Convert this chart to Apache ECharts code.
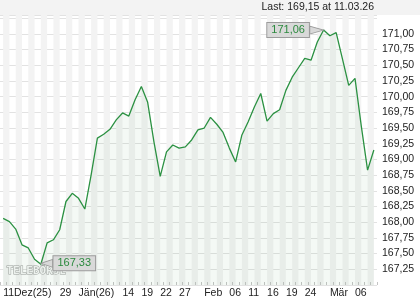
<!DOCTYPE html>
<html><head><meta charset="utf-8">
<script src="https://cdn.jsdelivr.net/npm/echarts@6/dist/echarts.min.js"></script>
<style>html,body{margin:0;padding:0;background:#fff}#c{width:420px;height:300px}</style>
</head><body><div id="c"></div>
<script>
const dates = ['11.12.25','12.12.25','15.12.25','16.12.25','17.12.25','18.12.25','19.12.25','22.12.25','23.12.25','29.12.25','30.12.25',
 '02.01.26','05.01.26','06.01.26','07.01.26','08.01.26','09.01.26','12.01.26','13.01.26','14.01.26','15.01.26','16.01.26','19.01.26','20.01.26','21.01.26','22.01.26','23.01.26','26.01.26','27.01.26','28.01.26','29.01.26','30.01.26',
 '02.02.26','03.02.26','04.02.26','05.02.26','06.02.26','09.02.26','10.02.26','11.02.26','12.02.26','13.02.26','16.02.26','17.02.26','18.02.26','19.02.26','20.02.26','23.02.26','24.02.26','25.02.26','26.02.26','27.02.26',
 '02.03.26','03.03.26','04.03.26','05.03.26','06.03.26','09.03.26','10.03.26','11.03.26'];
const prices = [168.06,168.01,167.89,167.64,167.59,167.41,167.33,167.67,167.72,167.88,168.33,
 168.46,168.38,168.21,168.75,169.34,169.40,169.48,169.63,169.74,169.69,169.95,170.16,169.91,169.28,168.73,169.12,169.23,169.18,169.20,169.31,169.47,
 169.50,169.67,169.56,169.43,169.18,168.96,169.39,169.60,169.84,170.05,169.61,169.73,169.79,170.10,170.31,170.46,170.61,170.58,170.87,171.06,
 170.97,171.02,170.60,170.18,170.29,169.53,168.83,169.15];
const tickIdx = [0,9,12,19,22,25,28,32,36,39,42,45,48,52,56];
const tickText = ['11Dez(25)','29','Jän(26)','14','19','22','27','Feb','06','11','16','19','24','Mär','06'];
const lastText = 'Last: 169,15 at 11.03.26';

const fmt = v => v.toFixed(2).replace('.', ',');
const FONT = 'Liberation Sans, Arial, sans-serif';

const stripes = [];
for (let i = 0; i + 1 < dates.length; i += 2) stripes.push([{xAxis: dates[i]}, {xAxis: dates[i + 1]}]);

const chart = echarts.init(document.getElementById('c'), null, {renderer: 'canvas'});
chart.setOption({
  animation: false,
  grid: {left: 0, right: 43, top: 15, bottom: 15},
  graphic: [
    {type: 'rect', left: 0, top: 0, z: 0, shape: {width: 420, height: 15}, style: {fill: '#f3f3f3'}, silent: true},
    {type: 'text', right: 46, top: 2, z: 5, style: {text: lastText, font: '10.5px ' + FONT, fill: '#222'}},
    {type: 'text', left: 6, top: 265, z: 1.5, silent: true,
     style: {text: 'TELEBÖRSE', font: 'bold 11px DejaVu Sans Mono, monospace', fill: '#f7f7f7', stroke: '#a0a0a0', lineWidth: 1}}
  ],
  xAxis: {
    type: 'category', data: dates, boundaryGap: true, z: 1,
    axisLine: {show: false},
    axisTick: {show: true, inside: true, length: 3, interval: 0, lineStyle: {color: '#c4c4c4'}},
    axisLabel: {
      interval: (idx) => tickIdx.indexOf(idx) >= 0,
      formatter: (v, idx) => tickText[tickIdx.indexOf(idx)] || '',
      align: 'left', margin: 3, color: '#222', fontSize: 10.5, fontFamily: FONT
    },
    splitLine: {show: false}
  },
  yAxis: {
    type: 'value', position: 'right', min: 167, max: 171.3, interval: 0.25, z: 1,
    axisLine: {show: false}, axisTick: {show: false},
    axisLabel: {margin: 5, color: '#222', fontSize: 10.5, fontFamily: FONT,
      formatter: v => (v < 167.1 || v > 171.1 ? '' : fmt(v))},
    splitLine: {lineStyle: {color: '#e2e2e2', width: 1}}
  },
  series: [
    {
      type: 'line', z: 0, silent: true, data: prices, symbol: 'none',
      lineStyle: {opacity: 0},
      markArea: {silent: true, itemStyle: {color: '#f3f3f3'}, data: stripes}
    },
    {
      type: 'line', z: 2, data: prices, symbol: 'none', smooth: false,
      lineStyle: {color: '#2b9142', width: 1.3},
      areaStyle: {color: 'rgba(40,130,60,0.07)'},
      markPoint: {
        silent: true,
        data: [
          {type: 'max', symbol: 'path://M0,0L14,4L0,8Z', symbolSize: [14, 8], symbolOffset: [-7, 0],
           label: {position: 'left', distance: 0}},
          {type: 'min', symbol: 'path://M14,0L0,4L14,8Z', symbolSize: [12, 8], symbolOffset: [6, -1],
           label: {position: 'right', distance: 0}}
        ],
        itemStyle: {color: '#d9d9d9', borderColor: '#9c9c9c', borderWidth: 1},
        label: {
          show: true, formatter: p => fmt(p.value), color: '#2b8a3e', fontSize: 11, fontFamily: FONT,
          backgroundColor: '#d9d9d9', borderColor: '#9c9c9c', borderWidth: 1, padding: [2, 4, 1, 4]
        }
      }
    }
  ]
});
</script></body></html>
